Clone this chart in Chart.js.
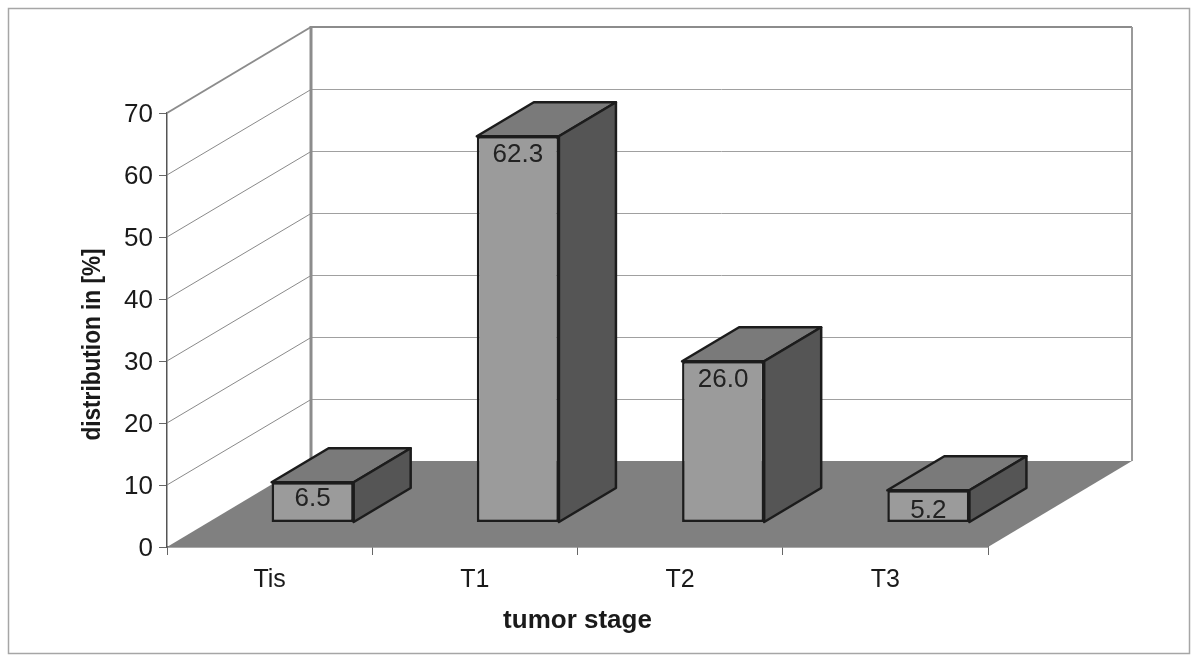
<!DOCTYPE html>
<html>
<head>
<meta charset="utf-8">
<style>html,body{margin:0;padding:0;background:#fff}canvas{display:block}</style>
<script src="https://cdn.jsdelivr.net/npm/chart.js@4"></script>
</head>
<body>
<canvas id="c" width="1200" height="662"></canvas>
<script>
const categories = ["Tis", "T1", "T2", "T3"];
const distribution = [6.5, 62.3, 26.0, 5.2];
const valueLabels = ["6.5", "62.3", "26.0", "5.2"];
const yTicks = [0, 10, 20, 30, 40, 50, 60, 70];
const xTitle = "tumor stage";
const yTitle = "distribution in [%]";

const FONT = '"Liberation Sans", Arial, sans-serif';
const WALL = {dx: 144, dy: -86};      // depth of the floor
const BAR = {dx: 57, dy: -34};        // depth of a bar
const SHIFT = {dx: 43, dy: -24.5};    // bar position on the floor
const LABEL_NUDGE = [-2, 0, 0, 2];    // vertical label placement inside each bar
const EDGE = '#1c1c1c';

function poly(ctx, pts, fill, stroke, lw) {
  ctx.beginPath();
  pts.forEach((p, i) => i ? ctx.lineTo(p[0], p[1]) : ctx.moveTo(p[0], p[1]));
  ctx.closePath();
  if (fill) { ctx.fillStyle = fill; ctx.fill(); }
  if (stroke) { ctx.strokeStyle = stroke; ctx.lineWidth = lw; ctx.lineJoin = 'round'; ctx.stroke(); }
}
function seg(ctx, x1, y1, x2, y2, color, lw) {
  ctx.beginPath(); ctx.moveTo(x1, y1); ctx.lineTo(x2, y2);
  ctx.strokeStyle = color; ctx.lineWidth = lw; ctx.stroke();
}

const scene3d = {
  id: 'scene3d',
  beforeDraw(chart) {
    const ctx = chart.ctx;
    ctx.save();
    ctx.fillStyle = '#fff';
    ctx.fillRect(0, 0, chart.width, chart.height);
    ctx.strokeStyle = '#a6a6a6'; ctx.lineWidth = 1.5;
    ctx.strokeRect(8.5, 8.5, 1181, 645);
    ctx.restore();
  },
  beforeDatasetsDraw(chart) {
    const ctx = chart.ctx, a = chart.chartArea, y = chart.scales.y;
    const L = a.left, R = a.right, b = y.getPixelForValue(0), t = y.getPixelForValue(70);
    ctx.save();
    // floor
    poly(ctx, [[L, b], [R, b], [R + WALL.dx, b + WALL.dy], [L + WALL.dx, b + WALL.dy]], '#808080');
    // grid lines on the side wall and back wall
    y.ticks.forEach(tk => {
      const p = y.getPixelForValue(tk.value);
      if (tk.value === 0 || tk.value === 70) return;
      const back = Math.floor(p + WALL.dy) + 0.5;
      seg(ctx, L, p, L + WALL.dx, back, '#8a8a8a', 1);
      seg(ctx, L + WALL.dx, back, R + WALL.dx, back, '#a0a0a0', 1);
    });
    // wall edges
    seg(ctx, L, t, L + WALL.dx, t + WALL.dy, '#8c8c8c', 2);
    seg(ctx, L + WALL.dx, t + WALL.dy, R + WALL.dx, t + WALL.dy, '#8c8c8c', 2);
    seg(ctx, L + WALL.dx, t + WALL.dy - 1, L + WALL.dx, b + WALL.dy, '#8c8c8c', 3);
    seg(ctx, R + WALL.dx, t + WALL.dy, R + WALL.dx, b + WALL.dy, '#9a9a9a', 2);
    // top and side of each bar
    chart.getDatasetMeta(0).data.forEach(el => {
      const l = el.x - el.width / 2 + SHIFT.dx, r = el.x + el.width / 2 + SHIFT.dx;
      const tp = el.y + SHIFT.dy, bt = el.base + SHIFT.dy;
      poly(ctx, [[l, tp], [r, tp], [r + BAR.dx, tp + BAR.dy], [l + BAR.dx, tp + BAR.dy]], '#7a7a7a', EDGE, 2.5);
      poly(ctx, [[r, tp], [r + BAR.dx, tp + BAR.dy], [r + BAR.dx, bt + BAR.dy], [r, bt]], '#555555', EDGE, 2.5);
    });
    ctx.restore();
  },
  beforeDatasetDraw(chart) {
    chart.ctx.save();
    chart.ctx.translate(SHIFT.dx, SHIFT.dy);
  },
  afterDatasetDraw(chart) {
    chart.ctx.restore();
  },
  afterDraw(chart) {
    const ctx = chart.ctx;
    ctx.save();
    // value labels
    ctx.fillStyle = '#222';
    ctx.font = '26px ' + FONT;
    ctx.textAlign = 'center';
    ctx.textBaseline = 'middle';
    chart.getDatasetMeta(0).data.forEach((el, i) => {
      ctx.fillText(valueLabels[i], el.x + SHIFT.dx, el.y + SHIFT.dy + 19 + LABEL_NUDGE[i]);
    });
    // y-axis title (the reference glyphs are narrower along the text direction)
    ctx.translate(93, 344.5);
    ctx.rotate(-Math.PI / 2);
    ctx.scale(0.87, 1);
    ctx.font = 'bold 26px ' + FONT;
    ctx.fillStyle = '#1a1a1a';
    ctx.fillText(yTitle, 0, 0);
    ctx.restore();
  }
};

new Chart(document.getElementById('c'), {
  type: 'bar',
  data: {
    labels: categories,
    datasets: [{
      data: distribution,
      backgroundColor: '#9b9b9b',
      borderColor: EDGE,
      borderWidth: 2.5,
      borderSkipped: false,
      barPercentage: 1,
      categoryPercentage: 0.4,
      clip: false
    }]
  },
  options: {
    responsive: false,
    animation: false,
    events: [],
    layout: {padding: {top: 113, right: 212, bottom: 0, left: 0}},
    plugins: {legend: {display: false}, tooltip: {enabled: false}, title: {display: false}},
    scales: {
      x: {
        afterFit(s) { s.height = 115; },
        grid: {drawOnChartArea: false, drawTicks: true, tickLength: 8, color: '#666'},
        border: {display: true, color: '#555', width: 1.5},
        ticks: {color: '#1a1a1a', font: {family: FONT, size: 25}, padding: 10, maxRotation: 0},
        title: {display: true, text: xTitle, color: '#1a1a1a', font: {family: FONT, size: 26, weight: 'bold'}, padding: {top: 0, bottom: 26}}
      },
      y: {
        min: 0, max: 70,
        afterFit(s) { s.width = 167; },
        afterBuildTicks(s) { s.ticks = yTicks.map(v => ({value: v})); },
        grid: {drawOnChartArea: false, drawTicks: true, tickLength: 8, color: '#666'},
        border: {display: true, color: '#555', width: 1.5},
        ticks: {color: '#1a1a1a', font: {family: FONT, size: 26}, padding: 6, labelOffset: 2},
        title: {display: false}
      }
    }
  },
  plugins: [scene3d]
});
</script>
</body>
</html>
